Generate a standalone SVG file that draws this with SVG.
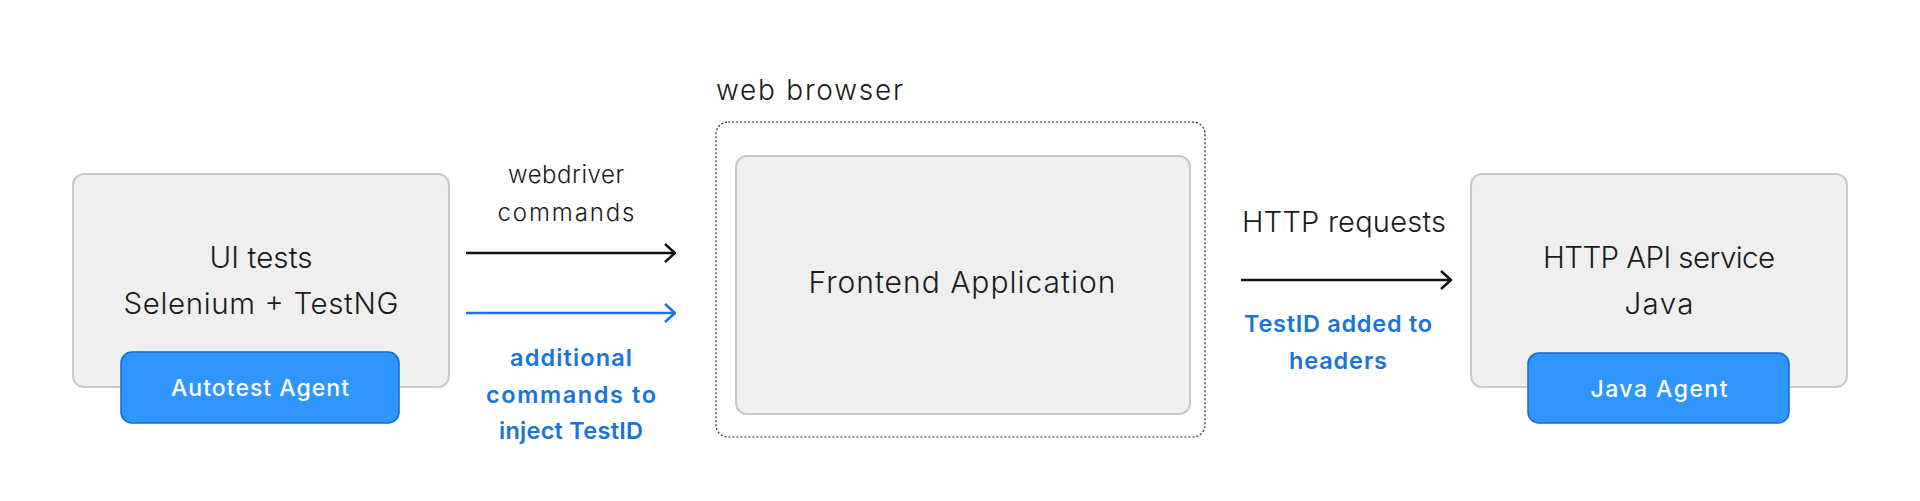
<svg xmlns="http://www.w3.org/2000/svg" width="1920" height="501" viewBox="0 0 1920 501">
<defs>
<style>
.box{fill:#efefef;stroke:#c8c8c8;stroke-width:2}
.agent{fill:#3096ff;stroke:#0e6ad2;stroke-width:1.5}
.t{font-family:Inter,"Open Sans",sans-serif;font-weight:300;fill:#1a1a1a;text-anchor:middle}
.at{font-family:Inter,"Open Sans",sans-serif;font-weight:500;fill:#ffffff;text-anchor:middle;font-size:23px}
.bt{font-family:Inter,"Open Sans",sans-serif;font-weight:600;fill:#1874d8;text-anchor:middle;font-size:23.5px}
.ln{fill:none;stroke-width:2.5}
</style>
<marker id="ahk" viewBox="0 0 12 20" refX="11" refY="10" markerWidth="12" markerHeight="20" markerUnits="userSpaceOnUse" orient="auto">
<path d="M1 1 L11 10 L1 19" fill="none" stroke="#111" stroke-width="2.5"/>
</marker>
<marker id="ahb" viewBox="0 0 12 20" refX="11" refY="10" markerWidth="12" markerHeight="20" markerUnits="userSpaceOnUse" orient="auto">
<path d="M1 1 L11 10 L1 19" fill="none" stroke="#1874d8" stroke-width="2.5"/>
</marker>
</defs>
<rect width="1920" height="501" fill="#ffffff"/>
<g id="ui-tests">
<rect class="box" x="73" y="174" width="376" height="213" rx="11"/>
<text class="t" x="261" y="268" font-size="29.5" textLength="103" lengthAdjust="spacing">UI tests</text>
<text class="t" x="261" y="314" font-size="29.5" textLength="275" lengthAdjust="spacing">Selenium + TestNG</text>
</g>
<g id="autotest-agent">
<rect class="agent" x="121" y="352" width="278" height="71" rx="11"/>
<text class="at" x="260" y="396" textLength="178" lengthAdjust="spacing">Autotest Agent</text>
</g>
<g id="web-browser">
<rect x="716" y="122" width="489" height="315" rx="12" fill="none" stroke="#222" stroke-width="1.2" stroke-dasharray="2 2"/>
<text class="t" x="716" y="100" font-size="28" style="text-anchor:start" textLength="187" lengthAdjust="spacing">web browser</text>
</g>
<g id="frontend">
<rect class="box" x="736" y="156" width="454" height="258" rx="11"/>
<text class="t" x="962" y="293" font-size="30" textLength="307" lengthAdjust="spacing">Frontend Application</text>
</g>
<g id="http-api">
<rect class="box" x="1471" y="174" width="376" height="213" rx="11"/>
<text class="t" x="1659" y="268" font-size="29.5" textLength="232" lengthAdjust="spacing">HTTP API service</text>
<text class="t" x="1659" y="314" font-size="29.5" textLength="69" lengthAdjust="spacing">Java</text>
</g>
<g id="java-agent">
<rect class="agent" x="1528" y="353" width="261" height="70" rx="11"/>
<text class="at" x="1659" y="397" textLength="137" lengthAdjust="spacing">Java Agent</text>
</g>
<g id="connectors">
<line class="ln" x1="466" y1="253" x2="675" y2="253" stroke="#111" marker-end="url(#ahk)"/>
<line class="ln" x1="466" y1="313" x2="675" y2="313" stroke="#1874d8" marker-end="url(#ahb)"/>
<line class="ln" x1="1241" y1="280" x2="1451" y2="280" stroke="#111" marker-end="url(#ahk)"/>
<text class="t" x="566" y="183" font-size="24" textLength="116" lengthAdjust="spacing">webdriver</text>
<text class="t" x="566" y="221" font-size="24" textLength="137" lengthAdjust="spacing">commands</text>
<text class="bt" x="571" y="366" textLength="122" lengthAdjust="spacing">additional</text>
<text class="bt" x="571" y="403" textLength="170" lengthAdjust="spacing">commands to</text>
<text class="bt" x="571" y="439" textLength="144" lengthAdjust="spacing">inject TestID</text>
<text class="t" x="1344" y="232" font-size="29" textLength="204" lengthAdjust="spacing">HTTP requests</text>
<text class="bt" x="1338" y="332" textLength="188" lengthAdjust="spacing">TestID added to</text>
<text class="bt" x="1338" y="369" textLength="98" lengthAdjust="spacing">headers</text>
</g>
</svg>
